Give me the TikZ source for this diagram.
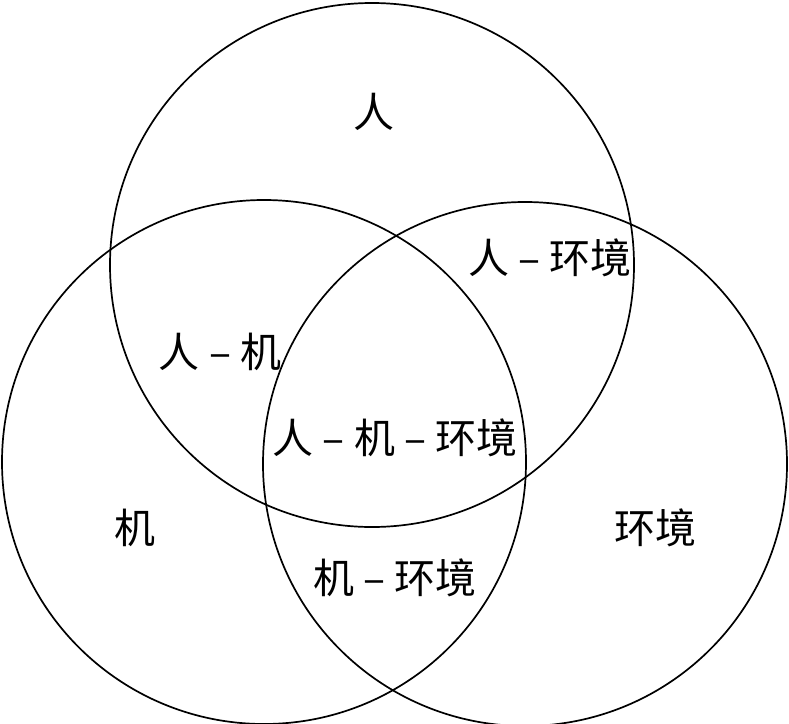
\documentclass[tikz,border=0pt]{standalone}
\usepackage{fontspec}
\newfontfamily\cjk{Noto Sans CJK SC}
\usepackage{tikz}
\usetikzlibrary{positioning}

\begin{document}
\begin{tikzpicture}[x=1pt,y=-1pt,semithick,
  set/.style={circle,draw,line width=1.7pt,inner sep=0pt,minimum size=524pt},
  lbl/.style={font=\cjk\fontsize{41}{45}\selectfont}]
\useasboundingbox (0,0) rectangle (789,723);

\node[set] (ren)  at (372,265) {};
\node[set] (ji)   at (264,462) {};
\node[set] (huan) at (525,464) {};

\node[lbl] (L1) at (374,112) {人};
\node[lbl] (L2) at (135,528) {机};
\node[lbl] (L3) at (655,528) {环境};
\node[lbl] (L4) at (220,352) {人 – 机};
\node[lbl] (L5) at (550,258) {人 – 环境};
\node[lbl] (L6) at (395,578) {机 – 环境};
\node[lbl] (L7) at (395,438) {人 – 机 – 环境};

\end{tikzpicture}
\end{document}
